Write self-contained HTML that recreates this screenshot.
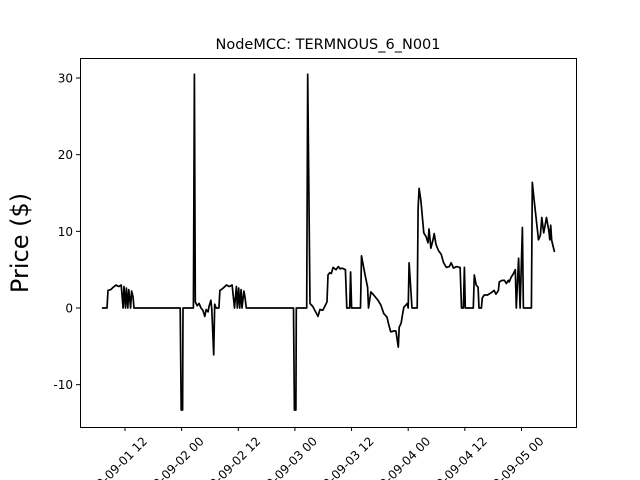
<!DOCTYPE html>
<html><head><meta charset="utf-8"><style>
html,body{margin:0;background:#fff;width:640px;height:480px;overflow:hidden;}
svg{display:block;overflow:hidden;font-family:"DejaVu Sans","Liberation Sans",sans-serif;}
</style></head><body>
<svg id="chart" width="640" height="480" viewBox="0 0 640 480">
<defs><clipPath id="frameclip"><rect x="0" y="0" width="640" height="480"/></clipPath></defs>
<rect width="640" height="480" fill="#fff"/>
<text x="328" y="49" text-anchor="middle" font-size="14.5">NodeMCC: TERMNOUS_6_N001</text>
<text transform="translate(28,243) rotate(-90)" text-anchor="middle" font-size="24">Price ($)</text>
<g id="plot"></g>
<g id="xlabels" clip-path="url(#frameclip)"></g>
<rect x="80.5" y="58.5" width="496" height="369" fill="none" stroke="#000" stroke-width="1"/>
</svg>
<script>
const hours=[7.1,8.2,8.4,9.0,9.5,10.1,10.7,11.2,11.6,11.8,12.1,12.3,12.6,12.8,13.2,13.4,13.7,13.9,23.7,23.9,24.2,24.3,26.5,26.7,26.9,27.3,27.7,28.1,28.5,28.9,29.2,29.6,29.8,30.2,30.4,30.8,31.0,31.3,31.9,32.1,
32.4,33.0,33.5,34.1,34.7,35.2,35.6,35.8,36.1,36.3,36.6,36.8,37.2,37.4,37.7,37.9,47.7,47.9,48.2,48.3,50.5,50.7,
51.2,51.8,52.9,53.3,53.9,54.4,54.8,55.0,55.4,55.7,56.1,56.7,57.2,57.6,58.0,58.7,59.0,59.6,59.8,60.0,61.9,62.1,62.8,63.4,63.6,64.1,64.7,65.6,66.2,66.8,67.5,67.9,68.3,69.0,69.4,69.9,70.1,70.5,70.9,71.1,71.8,72.0,72.2,72.8,73.9,74.1,74.3,74.7,75.3,75.8,76.2,76.4,76.8,77.3,77.5,77.9,78.4,79.0,79.5,80.1,80.7,81.1,81.6,82.2,83.0,83.3,83.7,83.9,84.1,85.8,86.0,86.4,86.8,87.0,87.5,87.7,88.1,88.8,89.6,90.2,90.6,91.1,91.3,91.9,92.4,92.8,93.2,93.4,93.8,94.3,94.7,94.9,95.4,95.7,96.2,96.4,98.1,98.3,98.7,99.6,100.0,100.3,100.7,101.3,101.8,102.0,102.2,102.4,103.0];
const prices=[0,0,2.3,2.4,2.7,3.0,2.8,3.0,0,2.8,0,2.6,0,2.4,0,2.2,1.5,0,0,-13.3,-13.3,0,0,30.5,0.8,0.3,0.6,0,-0.3,-1.1,-0.2,-0.5,0.2,1.0,-0.2,-6.1,0.5,0,0,2.3,
2.4,2.7,3.0,2.8,3.0,0,2.8,0,2.6,0,2.4,0,2.2,1.5,0,0,0,-13.3,-13.3,0,0,30.5,
0.6,0.2,-1.1,-0.2,-0.3,0.3,0.8,4.3,4.6,4.5,5.3,5.0,5.4,5.1,5.2,5.0,0,0,4.7,0,0,6.8,4.5,2.7,0,2.1,1.7,1.0,0.4,-0.7,-1.2,-2.2,-3.1,-3.0,-3.0,-5.1,-2.5,-2.0,-0.5,0.1,0.6,0,5.9,0,0,13,15.6,14,9.8,9.3,8.5,10.3,7.8,9.0,9.7,8.3,7.5,7.0,5.9,5.3,5.4,5.9,5.2,5.4,5.3,0,0,5.3,0,0,4.3,3.0,2.7,0,0,1.3,1.7,1.7,2.0,2.3,1.8,2.3,3.4,3.6,3.6,3.2,3.6,3.4,4.0,4.5,5.0,0,6.5,0,10.5,0,0,16.4,14,8.9,9.5,11.8,9.8,11.8,10,8.9,10.8,8.8,7.3];
const yTicks=[-10,0,10,20,30];
const xTickHours=[12,24,36,48,60,72,84,96];
const xTickLabels=["2020-09-01 12","2020-09-02 00","2020-09-02 12","2020-09-03 00","2020-09-03 12","2020-09-04 00","2020-09-04 12","2020-09-05 00"];

const X0=80,X1=576,Y0=58,Y1=427;
const hMin=2.47,hMax=107.55,vMin=-15.52,vMax=32.61;
const sx=h=>X0+(h-hMin)/(hMax-hMin)*(X1-X0);
const sy=v=>Y1-(v-vMin)/(vMax-vMin)*(Y1-Y0);
const NS="http://www.w3.org/2000/svg";
const g=document.getElementById('plot');
const gl=document.getElementById('xlabels');
function mk(t,a,parent){const e=document.createElementNS(NS,t);for(const k in a)e.setAttribute(k,a[k]);(parent||g).appendChild(e);return e;}
yTicks.forEach(v=>{
  const y=sy(v);
  const t=mk('line',{x1:X0-4,x2:X0,y1:y,y2:y,stroke:'#000'});
  
  
  const l=mk('text',{x:X0-7,y:y+4.5,'text-anchor':'end','font-size':'12'});
  l.textContent=String(v);
  
  
});
xTickHours.forEach((h,i)=>{
  const x=sx(h);
  const t=mk('line',{x1:x,x2:x,y1:Y1,y2:Y1+4,stroke:'#000'});
  
  
  const ex=x+23,ey=Y1+15;
  const l=mk('text',{x:ex,y:ey,'text-anchor':'end','font-size':'12',transform:`rotate(-45 ${ex} ${ey})`},gl);
  l.textContent=xTickLabels[i];
  
  
});
const d=hours.map((h,i)=>(i?'L':'M')+sx(h).toFixed(1)+','+sy(prices[i]).toFixed(1)).join('');
const p=mk('path',{d:d,fill:'none',stroke:'#000','stroke-width':'1.7','stroke-linejoin':'round'});


</script>
</body></html>
